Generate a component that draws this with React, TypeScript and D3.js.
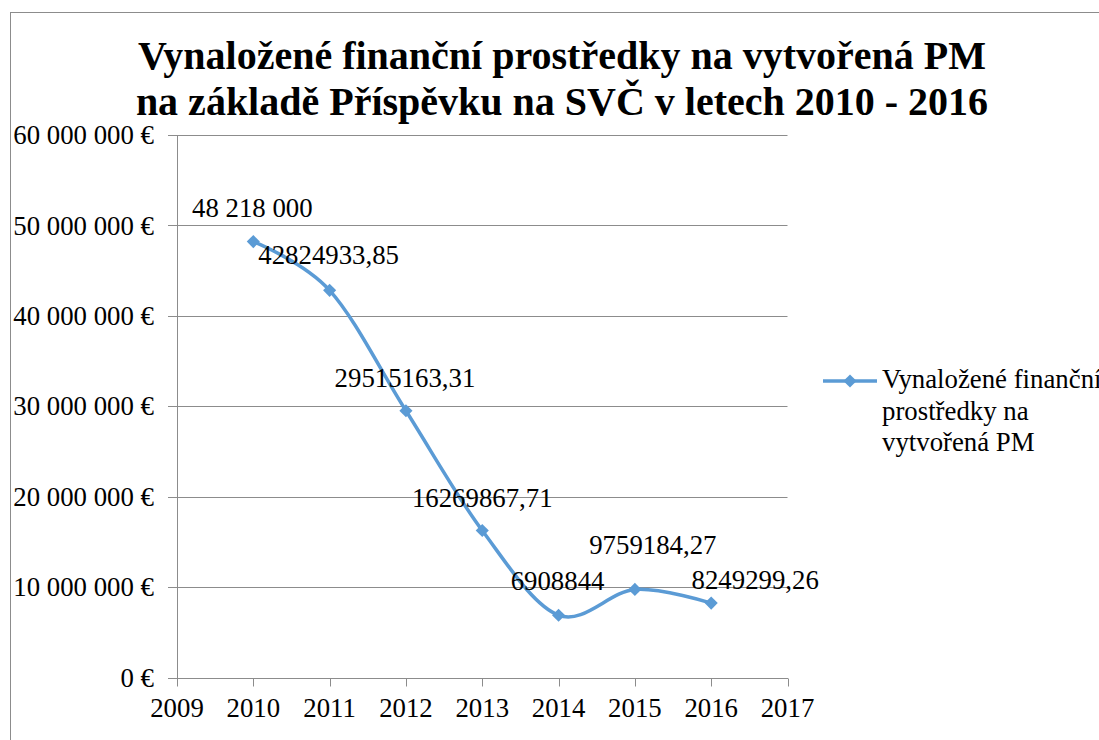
import React from 'react';
import * as d3 from 'd3';

const years = [2010, 2011, 2012, 2013, 2014, 2015, 2016];
const spent = [48218000, 42824933.85, 29515163.31, 16269867.71, 6908844, 9759184.27, 8249299.26];
const pointLabels = ['48 218 000', '42824933,85', '29515163,31', '16269867,71', '6908844', '9759184,27', '8249299,26'];
const yTicks = [0, 10000000, 20000000, 30000000, 40000000, 50000000, 60000000];
const xTicks = [2009, 2010, 2011, 2012, 2013, 2014, 2015, 2016, 2017];
const titleLines = ['Vynaložené finanční prostředky na vytvořená PM', 'na základě Příspěvku na SVČ v letech 2010 - 2016'];
const legendLines = ['Vynaložené finanční', 'prostředky na', 'vytvořená PM'];

// labels were dragged by hand in the original, so nudge them a bit
const labelNudge = [[-1, -25], [-1, -26], [-1, -24], [0, -24], [-1, -25], [18, -35], [44, -14]];

const FONT = '"Liberation Serif", serif';
const BLUE = '#5B9BD5';
const GREY = '#8c8c8c';
const FS = 26.8;

const left = 177, right = 787.5, top = 135, bottom = 677.7;
const x = d3.scaleLinear().domain([2009, 2017]).range([left, right]);
const y = d3.scaleLinear().domain([0, 60000000]).range([bottom, top]);
const euro = (d: number) => d3.format(',')(d).replace(/,/g, ' ') + ' €';
const px = (v: number) => Math.round(v) + 0.5;

const pts: [number, number][] = years.map((yr, i) => [x(yr), y(spent[i])]);
const linePath = d3.line().curve(d3.curveCatmullRom.alpha(0))(pts) || '';
const diamond = d3.symbol().type(d3.symbolDiamond2).size(110)() || '';

const App = () => {
  const txt = { fontFamily: FONT, fontSize: FS + 'px' };
  return (
    <svg width="1099" height="740" style={{ position: 'absolute', left: 0, top: 0, background: '#fff', fontFamily: FONT }}>
      {/* chart frame */}
      <rect x={10.5} y={12.5} width={1200} height={1000} fill="none" stroke={GREY} />

      <text textAnchor="middle" style={{ fontFamily: FONT, fontWeight: 'bold', fontSize: '40px' }}>
        {titleLines.map((t, i) => (
          <tspan key={i} x={562} y={69 + i * 46}>{t}</tspan>
        ))}
      </text>

      {/* gridlines */}
      {yTicks.slice(1).map(d => (
        <line key={d} x1={left} x2={right} y1={px(y(d))} y2={px(y(d))} stroke={GREY} />
      ))}

      {/* y axis */}
      <line x1={px(left)} x2={px(left)} y1={px(top)} y2={px(bottom)} stroke={GREY} />
      {yTicks.map(d => (
        <g key={d}>
          <line x1={left - 9} x2={left} y1={px(y(d))} y2={px(y(d))} stroke={GREY} />
          <text x={left - 23} y={y(d)} dy="0.34em" textAnchor="end" style={txt}>{euro(d)}</text>
        </g>
      ))}

      {/* x axis */}
      <line x1={left} x2={right + 0.5} y1={px(bottom)} y2={px(bottom)} stroke={GREY} />
      {xTicks.map(d => (
        <g key={d}>
          <line x1={px(x(d))} x2={px(x(d))} y1={px(bottom)} y2={px(bottom) + 8} stroke={GREY} />
          <text x={x(d)} y={bottom + 39} textAnchor="middle" style={txt}>{d}</text>
        </g>
      ))}

      <path d={linePath} fill="none" stroke={BLUE} strokeWidth={3.5} strokeLinecap="round" />
      {pts.map((p, i) => (
        <path key={i} d={diamond} transform={`translate(${p[0]},${p[1]})`} fill={BLUE} />
      ))}

      {pts.map((p, i) => (
        <text key={i} x={p[0] + labelNudge[i][0]} y={p[1] + labelNudge[i][1]} textAnchor="middle" style={txt}>
          {pointLabels[i]}
        </text>
      ))}

      {/* legend */}
      <line x1={823} x2={877} y1={381} y2={381} stroke={BLUE} strokeWidth={3.5} />
      <path d={diamond} transform="translate(850,381)" fill={BLUE} />
      <text style={txt}>
        {legendLines.map((t, i) => (
          <tspan key={i} x={882} y={388 + i * 31.5}>{t}</tspan>
        ))}
      </text>
    </svg>
  );
};

export default App;
